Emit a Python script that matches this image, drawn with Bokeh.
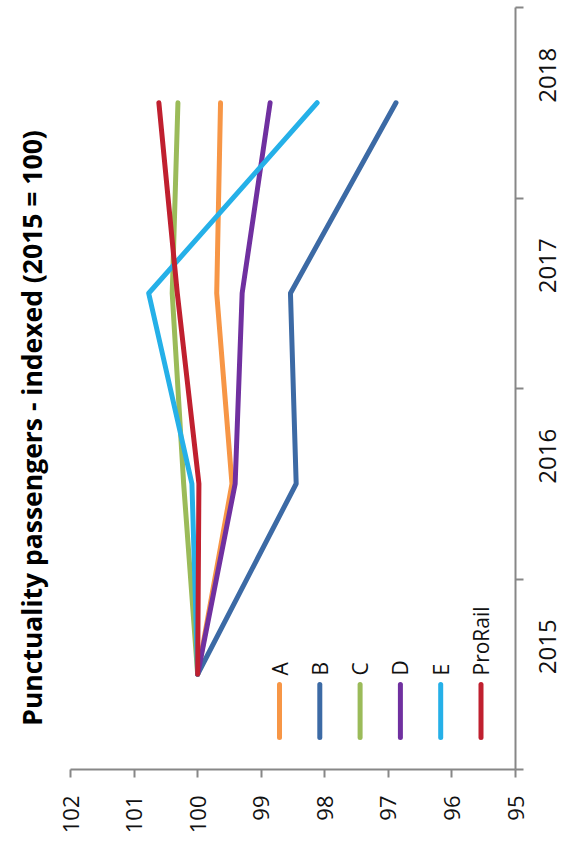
import math
from bokeh.plotting import figure
from bokeh.models import Range1d, FixedTicker, ColumnDataSource
from bokeh.core.properties import value
from bokeh.embed import file_html
from bokeh.resources import INLINE

# ---- data ----
years = [2015, 2016, 2017, 2018]
series_names = ["A", "B", "C", "D", "E", "ProRail"]
A = [100.0, 99.46, 99.70, 99.64]
B = [100.0, 98.45, 98.54, 96.88]
C = [100.0, 100.22, 100.40, 100.31]
D = [100.0, 99.41, 99.30, 98.86]
E = [100.0, 100.09, 100.77, 98.12]
ProRail = [100.0, 99.98, 100.32, 100.61]
value_ticks = [95, 96, 97, 98, 99, 100, 101, 102]
year_bounds = [2014.5, 2015.5, 2016.5, 2017.5, 2018.5]
title_text = "Punctuality passengers - indexed  (2015 = 100)"

colors = ["#F79646", "#3C6AA5", "#9BBB59", "#7030A0", "#25B0E8", "#C0202F"]
series = [A, B, C, D, E, ProRail]

# ---- layout ----
PLOT_LEFT = 70          # pixels reserved left of the value scale (title area)
PLOT_W, FH = 445, 762   # value-scale width, frame height
FW = PLOT_LEFT + PLOT_W
VMAX, VMIN = 102, 95
XS = VMAX + (VMAX - VMIN) * PLOT_LEFT / PLOT_W   # range start incl. title area
Y0, Y1 = 2014.5, 2018.5
FONT = "Open Sans"
AXIS_COLOR = "#878787"

p = figure(frame_width=FW, frame_height=FH,
           x_range=Range1d(XS, VMIN), y_range=Range1d(Y0, Y1),
           y_axis_location="right",
           output_backend="svg", toolbar_location=None,
           min_border_left=0, min_border_right=10,
           min_border_top=7, min_border_bottom=10)
p.outline_line_color = None
p.xgrid.visible = False
p.ygrid.visible = False
p.background_fill_color = "white"


def fx(px):
    """pixel from frame left -> x data"""
    return XS + (VMIN - XS) * px / FW


def fy(py):
    """pixel from frame top -> y data"""
    return Y1 - (Y1 - Y0) * py / FH


# value axis (bottom)
xa = p.xaxis[0]
xa.bounds = (VMIN, VMAX)
xa.ticker = FixedTicker(ticks=value_ticks)
xa.axis_line_color = AXIS_COLOR
xa.axis_line_width = 2
xa.major_tick_line_color = AXIS_COLOR
xa.major_tick_line_width = 2
xa.major_tick_out = 8
xa.major_tick_in = 0
xa.minor_tick_line_color = None
xa.major_label_orientation = math.pi / 2
xa.major_label_standoff = 18
xa.major_label_text_font = FONT
xa.major_label_text_font_size = "22px"
xa.major_label_text_color = "#111111"

# year axis (right)
ya = p.yaxis[0]
ya.ticker = FixedTicker(ticks=years, minor_ticks=year_bounds)
ya.axis_line_color = AXIS_COLOR
ya.axis_line_width = 2
ya.major_tick_line_color = None
ya.major_tick_out = 0
ya.major_tick_in = 0
ya.minor_tick_line_color = AXIS_COLOR
ya.minor_tick_line_width = 2
ya.minor_tick_out = 8
ya.minor_tick_in = 0
ya.major_label_orientation = math.pi / 2
ya.major_label_standoff = 24
ya.major_label_text_font = FONT
ya.major_label_text_font_size = "24px"
ya.major_label_text_color = "#111111"

# title (vertical text on the left)
p.text(x=[fx(31)], y=[fy(417)], text=[title_text], angle=math.pi / 2,
       text_align="center", text_baseline="middle",
       text_font=value(FONT), text_font_style="bold",
       text_font_size="26.5px", text_color="#000000")

# lines
for name, vals, col in zip(series_names, series, colors):
    p.line(x=vals, y=years, line_color=col, line_width=5,
           line_join="round", line_cap="round")

# ---- custom legend (rotated) ----
LEG_X0, LEG_DX = 279, 40.3
LEG_Y_TOP, LEG_Y_BOT, LEG_TEXT = 677, 730, 668
lx = [fx(LEG_X0 + i * LEG_DX) for i in range(len(series_names))]
leg = ColumnDataSource(dict(x=lx, y0=[fy(LEG_Y_TOP)] * len(lx), y1=[fy(LEG_Y_BOT)] * len(lx),
                            ty=[fy(LEG_TEXT)] * len(lx), name=series_names, color=colors))
p.segment(x0="x", y0="y0", x1="x", y1="y1", source=leg, line_color="color",
          line_width=5, line_cap="round")
p.text(x="x", y="ty", text="name", source=leg, angle=math.pi / 2,
       text_align="left", text_baseline="middle",
       text_font=value(FONT), text_font_size="21px", text_color="#111111")

open("out.html", "w").write(file_html(p, INLINE))
